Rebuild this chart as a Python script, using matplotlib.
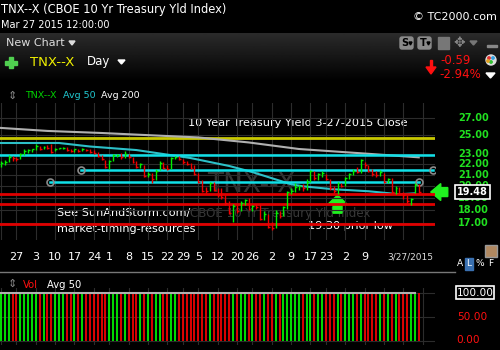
"""
TC2000 style daily chart of the 10 Year Treasury Yield index (TNX--X)
"""

# Import required packages:
import numpy as np
import pandas as pd
import matplotlib
matplotlib.use('Agg')
import matplotlib.pyplot as plt
from matplotlib.patches import Rectangle, Polygon, Circle, FancyBboxPatch

# Trading days shown on the chart (Oct 21 2014 - Mar 27 2015):
holidays = ['2014-11-27', '2014-12-25', '2015-01-01', '2015-01-19', '2015-02-16']
dates = pd.bdate_range('2014-10-21', '2015-03-27').drop(pd.to_datetime(holidays))

# Daily bars (yield x 10):
highs = [22.3, 22.4, 22.9, 22.8, 22.7, 23.1, 23.6, 23.5, 23.6,
         24.1, 23.9, 23.9, 24.0, 24.1, 23.7, 23.7, 23.8, 23.8, 23.6,
         23.6, 23.6, 23.7, 23.6, 23.6, 23.4, 23.2, 22.9, 22.4,
         22.4, 23.0, 23.0, 23.1, 23.3, 23.0, 22.7, 22.3, 22.1, 21.9, 21.3,
         21.2, 21.6, 22.3, 22.2, 21.9, 22.7, 22.8, 22.8, 22.5, 22.3, 22.1,
         21.9, 21.2, 20.5, 19.9, 20.4, 20.4, 19.8, 19.8, 19.2, 18.7,
         18.5, 18.4, 18.7, 18.9, 19.0, 18.4, 18.5, 18.5, 17.9, 17.7,
         17.1, 18.0, 17.9, 18.3, 19.6, 19.8, 20.3, 20.1, 20.2, 20.6,
         21.5, 21.4, 21.2, 21.4, 21.1, 20.6, 20.0, 20.4, 20.3,
         20.8, 21.2, 21.6, 21.8, 22.5, 22.2, 21.9, 21.6, 21.4, 21.5,
         21.2, 20.7, 20.7, 20.0, 19.9, 19.5, 19.2, 19.0, 20.3, 20.2]
lows = [21.8, 21.9, 22.2, 22.3, 22.3, 22.5, 22.9, 23.1, 23.2,
        23.4, 23.4, 23.5, 23.6, 23.1, 23.3, 23.5, 23.5, 23.3, 23.2,
        23.2, 23.2, 23.3, 23.3, 23.1, 23.0, 22.7, 22.4, 21.7,
        21.6, 22.3, 22.7, 22.5, 22.6, 22.6, 22.1, 21.7, 21.7, 20.8, 20.8,
        20.3, 20.5, 21.5, 21.6, 21.5, 21.6, 22.5, 22.4, 22.0, 21.9, 21.6,
        21.0, 20.3, 19.5, 19.4, 19.6, 19.6, 19.1, 18.9, 18.4, 17.7,
        17.1, 17.8, 17.9, 18.4, 18.0, 17.9, 18.1, 17.2, 17.2, 16.6,
        16.5, 16.6, 17.4, 17.5, 18.1, 19.3, 19.5, 19.7, 19.6, 19.7,
        20.4, 20.5, 20.5, 20.8, 20.5, 19.7, 19.4, 19.3, 19.9,
        20.0, 20.6, 21.0, 21.2, 21.2, 21.7, 21.3, 20.9, 20.8, 20.9,
        20.3, 20.3, 19.4, 19.3, 19.2, 18.9, 18.6, 18.4, 19.4, 19.4]
closes = [22.1, 22.2, 22.7, 22.6, 22.5, 23.0, 23.3, 23.4, 23.5,
          23.9, 23.6, 23.8, 23.7, 23.2, 23.6, 23.65, 23.7, 23.4, 23.3,
          23.5, 23.3, 23.6, 23.4, 23.2, 23.1, 22.8, 22.5, 21.8,
          22.3, 22.9, 22.95, 22.7, 23.0, 22.7, 22.2, 21.8, 22.0, 20.9, 21.1,
          20.6, 21.4, 22.1, 21.7, 21.6, 22.6, 22.7, 22.5, 22.2, 22.0, 21.7,
          21.1, 20.4, 19.6, 19.55, 20.3, 19.7, 19.2, 19.1, 18.6, 17.8,
          18.3, 17.9, 18.6, 18.8, 18.1, 18.3, 18.2, 17.3, 17.7, 16.7,
          16.6, 17.8, 17.5, 18.2, 19.5, 19.6, 19.9, 20.0, 19.8, 20.4,
          21.4, 20.7, 21.1, 21.2, 20.6, 19.8, 19.6, 20.3, 20.0,
          20.7, 21.1, 21.4, 21.3, 22.4, 21.9, 21.4, 21.1, 21.0, 21.3,
          20.4, 20.6, 19.5, 19.8, 19.3, 19.2, 18.7, 18.9, 20.07, 19.48]

# Moving averages (bar index, value):
ma50_idx = [0, 15, 23, 35, 49, 59, 65, 75, 78, 86, 95, 103, 107]
ma50_vals = [24.18, 24.18, 23.81, 23.44, 22.63, 21.85, 21.27, 20.16, 19.98,
             19.72, 19.55, 19.29, 19.37]
ma200_idx = [0, 12, 26, 37, 51, 64, 77, 93, 108]
ma200_vals = [25.84, 25.50, 25.27, 25.05, 24.78, 24.24, 23.55, 23.11, 22.70]

# Drawn trend lines: (level, first bar, last bar)
cyan_lines = [(22.94, -1, 113), (21.43, 20.7, 111.7), (20.33, 12.7, 108)]
red_levels = [19.28, 18.48, 16.94]
yellow_level = 24.70

# Volume pane (index shows a flat 100):
volume = [100] * len(closes)
vol_avg = [100] * len(closes)

price_ticks = [27, 25, 23, 22, 21, 20, 19, 18, 17]
week_labels = ['27', '3', '10', '17', '24', '1', '8', '15', '22', '29',
               '5', '12', '20', '26', '2', '9', '17', '23', '2', '9']

GREEN, RED = '#00f000', '#f00000'
W, H = 500, 350


def box(l, t, r, b):
    """Axes rectangle from pixel edges"""
    return [l / W, 1 - b / H, (r - l) / W, (b - t) / H]


fig = plt.figure(figsize=(5, 3.5), dpi=100, facecolor='black')
bg = fig.add_axes([0, 0, 1, 1])
bg.set_xlim(0, W)
bg.set_ylim(H, 0)
bg.axis('off')

ax = fig.add_axes(box(0, 103, 435, 240), facecolor='none')
axv = fig.add_axes(box(0, 288, 435, 345), facecolor='none')

idx = np.arange(len(closes))
up = np.r_[True, np.diff(closes) > 0]
bar_colors = np.where(up, GREEN, RED)

# week starts (for date labels and vertical grid):
wk = pd.Series(idx, index=dates)
week_first = wk.groupby(dates.to_period('W')).first().values
grid_x = list(week_first) + [week_first[-1] + 5, week_first[-1] + 10]

# ---- price pane ----
ax.set_yscale('log')
ax.set_xlim(-0.26, 112.2)
ax.set_ylim(15.77, 28.84)
for x in grid_x:
    ax.axvline(x, color='#2c2c2c', lw=0.8, zorder=0)
for t in price_ticks:
    ax.axhline(t, color='#2c2c2c', lw=0.8, zorder=0)

ax.axhline(yellow_level, color='#c8c800', lw=2, zorder=2)
ax.plot(ma200_idx, ma200_vals, color='#b0b0b0', lw=1.5, zorder=2)
ax.plot(ma50_idx, ma50_vals, color='#2cc0c8', lw=1.5, zorder=2)
for lvl, x0, x1 in cyan_lines:
    ax.plot([x0, x1], [lvl, lvl], color='#10e0e8', lw=1.8, zorder=2)
    if x0 >= 0:
        ax.plot([x0, x1], [lvl, lvl], 'o', ms=5, mfc='none', mec='#8a8a8a',
                mew=1.2, zorder=3)
for lvl in red_levels:
    ax.axhline(lvl, color='#e00000', lw=2, zorder=2)

ax.vlines(idx, lows, highs, colors=bar_colors, lw=1, zorder=4)
ax.hlines(closes, idx, idx + 0.5, colors=bar_colors, lw=1, zorder=4)

ax.set_xticks([])
ax.set_yticks([])
ax.minorticks_off()
for s in ax.spines.values():
    s.set_visible(False)

# ---- volume pane ----
axv.set_xlim(-0.26, 112.2)
axv.set_ylim(-8.3, 110.4)
for x in grid_x:
    axv.axvline(x, color='#2c2c2c', lw=0.8, zorder=0)
for t in [0, 50, 100]:
    axv.axhline(t, color='#2c2c2c', lw=0.8, zorder=0)
axv.vlines(idx, 0, volume, colors=bar_colors, lw=1.3)
axv.plot(idx[:-1], vol_avg[:-1], color='#b0b0b0', lw=1.5)
axv.set_xticks([])
axv.set_yticks([])
for s in axv.spines.values():
    s.set_visible(False)


def to_px(x, y, a=ax):
    X, Y = a.transData.transform((x, y))
    return X, H - Y


# ---- header / toolbar ----
grad = np.linspace(0.17, 0.0, 60).reshape(-1, 1)
bg.imshow(grad, extent=[0, W, 82, 33], aspect='auto', cmap='gray',
          vmin=0, vmax=1, zorder=0)
bg.text(1, 9, 'TNX--X (CBOE 10 Yr Treasury Yld Index)', color='white',
        fontsize=8.3, va='center')
bg.text(1, 25, 'Mar 27 2015 12:00:00', color='white', fontsize=7, va='center')
bg.text(497, 17, '\u00a9 TC2000.com', color='white', fontsize=8, va='center',
        ha='right')
bg.text(6, 43, 'New Chart', color='#dddddd', fontsize=8, va='center')
bg.add_patch(Polygon([[69, 41], [75, 41], [72, 45]], color='#dddddd'))
bg.add_patch(Rectangle((9, 57), 4, 11, color='#50d050'))
bg.add_patch(Rectangle((5, 60.5), 12, 4, color='#50d050'))
bg.text(30, 62, 'TNX--X', color='#f0f000', fontsize=9.5, va='center')
bg.text(87, 62, 'Day', color='white', fontsize=8.5, va='center')
bg.add_patch(Polygon([[118, 60], [125, 60], [121.5, 64]], color='white'))
for xs, lab in [(400, 'S'), (418, 'T')]:
    bg.add_patch(FancyBboxPatch((xs, 37), 13, 12, boxstyle='round,pad=0,rounding_size=2',
                                color='#8a8a8a'))
    bg.text(xs + 5, 43.5, lab, color='black', fontsize=7, va='center',
            ha='center', fontweight='bold')
    bg.add_patch(Polygon([[xs + 9, 42], [xs + 12, 42], [xs + 10.5, 45]],
                         color='black'))
bg.add_patch(Rectangle((438, 37), 11, 12, color='#777777'))
bg.text(459, 43, '\u2725', color='#888888', fontsize=10, va='center', ha='center')
bg.add_patch(Polygon([[470, 41], [477, 41], [473.5, 45]], color='#777777'))
bg.add_patch(Rectangle((487, 45), 10, 1.8, color='#888888'))
bg.text(440, 61, '-0.59', color='#ff1010', fontsize=8.5, va='center')
bg.text(439, 75, '-2.94%', color='#ff1010', fontsize=8.5, va='center')
bg.add_patch(Rectangle((429.5, 60), 2.5, 8, color='#ff1010'))
bg.add_patch(Polygon([[426, 67], [436, 67], [431, 74]], color='#ff1010'))
bg.add_patch(Circle((491, 60), 5, color='#dddddd'))
for (cx, cy), c in zip([(489, 58), (493, 58), (491, 62), (488, 61)],
                       ['#e03030', '#30a0e0', '#30c030', '#e0a020']):
    bg.add_patch(Circle((cx, cy), 1.2, color=c))
bg.add_patch(Polygon([[486, 73], [495, 73], [490.5, 78]], color='white'))

# legend row
bg.text(12, 96, '\u21d5', color='#888888', fontsize=8, va='center', ha='center')
bg.text(25, 96, 'TNX--X', color='#00d000', fontsize=6.8, va='center')
bg.text(63, 96, 'Avg 50', color='#20c8d0', fontsize=6.8, va='center')
bg.text(101, 96, 'Avg 200', color='white', fontsize=6.8, va='center')

# price axis labels (20.00 and 19.00 sit under the last-value box)
for t in price_ticks:
    bg.text(489, to_px(0, t)[1], '%.2f' % t, color='#20e020', fontsize=7,
            va='center', ha='right', fontweight='bold')
last_x, last_y = to_px(len(closes) - 1, closes[-1])
bg.add_patch(Rectangle((455, last_y - 7), 35, 14, facecolor='black',
                       edgecolor='white', lw=1.2, zorder=5))
bg.text(472.5, last_y, '%.2f' % closes[-1], color='white', fontsize=7,
        va='center', ha='center', fontweight='bold', zorder=6)

# chart texts
bg.text(251, 185, 'TNX--X', color='#343434', fontsize=19, va='center',
        ha='center', zorder=1)
bg.text(190, 213, 'CBOE 10 Yr Treasury Yld Index', color='#383838',
        fontsize=8.6, va='center', zorder=1)
bg.text(188, 123, '10 Year Treasury Yield 3-27-2015 Close', color='white',
        fontsize=8.1, va='center', zorder=6)
bg.text(57, 213, 'See SunAndStorm.com/', color='white', fontsize=8.1,
        va='center', zorder=6)
bg.text(57, 229, 'market-timing-resources', color='white', fontsize=8.1,
        va='center', zorder=6)
bg.text(308, 226, '19.30 prior low', color='white', fontsize=8.1,
        va='center', zorder=6)

# arrows (anchored to bars)
ux, uy = to_px(87, lows[87])
uy += 1
bg.add_patch(Polygon([[ux, uy], [ux - 9.5, uy + 9], [ux - 4.5, uy + 9],
                      [ux - 4.5, uy + 18], [ux + 4.5, uy + 18], [ux + 4.5, uy + 9],
                      [ux + 9.5, uy + 9]], color='#20f020', zorder=7))
lx = last_x + 12
left_arrow = [[lx, last_y], [lx + 10, last_y - 8.5], [lx + 10, last_y - 4.5],
              [lx + 17, last_y - 4.5], [lx + 17, last_y + 4.5],
              [lx + 10, last_y + 4.5], [lx + 10, last_y + 8.5]]
bg.add_patch(Polygon(left_arrow, color='#20f020', zorder=7))

# date labels
for i, lab in zip(week_first[1:], week_labels):
    bg.text(to_px(i, 20)[0], 257, lab, color='white', fontsize=8,
            va='center', ha='center')
bg.text(410, 257, '3/27/2015', color='#dddddd', fontsize=6.5, va='center',
        ha='center')

# volume header
bg.plot([0, 455], [272, 272], color='#777777', lw=1)
bg.text(12, 284, '\u21d5', color='#888888', fontsize=8, va='center', ha='center')
bg.text(23, 285, 'Vol', color='#ff1010', fontsize=7.2, va='center')
bg.text(47, 285, 'Avg 50', color='white', fontsize=7.2, va='center')
bg.add_patch(Rectangle((485, 245), 12, 12, facecolor='#b08860',
                       edgecolor='#999999', lw=1))
bg.add_patch(Rectangle((465, 258), 8, 12, color='#3a70b0'))
for xs, lab in [(459.5, 'A'), (469, 'L'), (480, '%'), (491, 'F')]:
    bg.text(xs, 264, lab, color='white', fontsize=6.5, va='center',
            ha='center')

# volume axis labels
vy100 = to_px(0, 100, axv)[1]
bg.add_patch(Rectangle((456, vy100 - 6.5), 38, 13, facecolor='black',
                       edgecolor='white', lw=1.2))
bg.text(475, vy100, '100.00', color='white', fontsize=7.6, va='center',
        ha='center')
bg.text(487, to_px(0, 50, axv)[1], '50.00', color='#ff1010', fontsize=7.6,
        va='center', ha='right')
bg.text(480, to_px(0, 0, axv)[1] - 1, '0.00', color='#ff1010', fontsize=7.6,
        va='center', ha='right')

fig.savefig('out.png', dpi=100, facecolor='black')
